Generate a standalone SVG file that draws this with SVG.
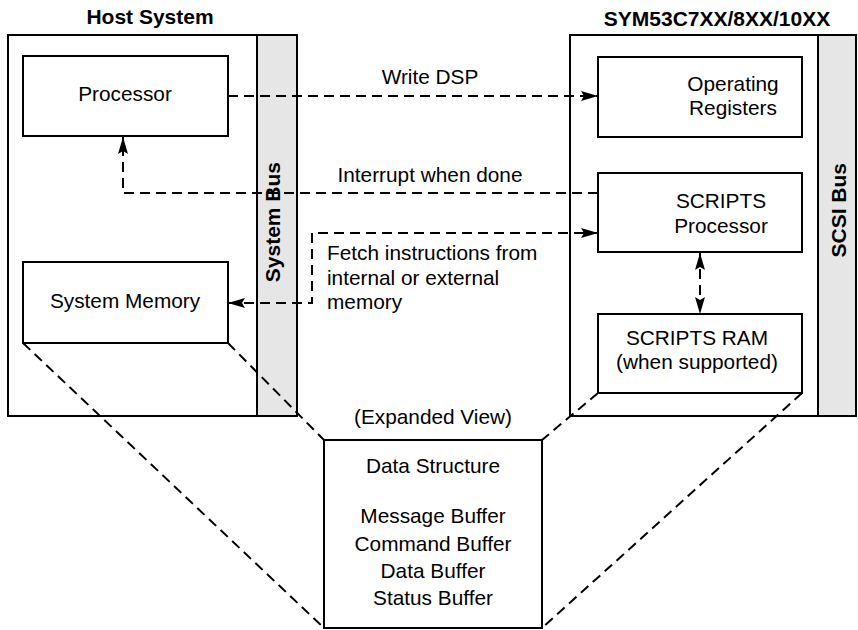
<svg xmlns="http://www.w3.org/2000/svg" width="858" height="630" viewBox="0 0 858 630">
  <style>
    .box { fill: #ffffff; stroke: #000000; stroke-width: 2; }
    .bus { fill: #e6e6e6; stroke: #000000; stroke-width: 2; }
    .lbl { font-family: "Liberation Sans", Arial, sans-serif; font-size: 20.8px; fill: #000000; }
    .ttl { font-family: "Liberation Sans", Arial, sans-serif; font-size: 21px; font-weight: bold; fill: #000000; }
    .c { text-anchor: middle; }
    .dash { fill: none; stroke: #000000; stroke-width: 2; stroke-dasharray: 10 6; }
  </style>
  <defs>
    <marker id="arrow" viewBox="0 0 17 10" refX="17" refY="5" markerWidth="17" markerHeight="10" markerUnits="userSpaceOnUse" orient="auto-start-reverse">
      <path d="M0,0 L17,5 L0,10 L3,5 Z" fill="#000000"/>
    </marker>
  </defs>

  <rect width="858" height="630" fill="#ffffff"/>

  <!-- Host system enclosure -->
  <g id="host-system">
    <rect class="box" x="8" y="35" width="289" height="381"/>
    <rect class="bus" x="257" y="35" width="40" height="381"/>
    <text class="ttl c" x="150" y="24">Host System</text>
    <text class="ttl" text-anchor="end" transform="translate(280,162) rotate(-90)">System Bus</text>
  </g>

  <!-- Controller enclosure -->
  <g id="controller">
    <rect class="box" x="570" y="35" width="286" height="381"/>
    <rect class="bus" x="818" y="35" width="38" height="381"/>
    <text class="ttl c" x="717" y="26">SYM53C7XX/8XX/10XX</text>
    <text class="ttl" text-anchor="end" transform="translate(846,163) rotate(-90)">SCSI Bus</text>
  </g>

  <g id="processor">
    <rect class="box" x="23" y="56" width="205" height="80"/>
    <text class="lbl c" x="125" y="101">Processor</text>
  </g>

  <g id="system-memory">
    <rect class="box" x="23" y="262" width="205" height="81"/>
    <text class="lbl c" x="125" y="308">System Memory</text>
  </g>

  <g id="operating-registers">
    <rect class="box" x="598" y="57" width="204" height="80"/>
    <text class="lbl c" x="733" y="91">Operating</text>
    <text class="lbl c" x="733" y="115">Registers</text>
  </g>

  <g id="scripts-processor">
    <rect class="box" x="598" y="173" width="204" height="79"/>
    <text class="lbl c" x="721" y="208">SCRIPTS</text>
    <text class="lbl c" x="721" y="233">Processor</text>
  </g>

  <g id="scripts-ram">
    <rect class="box" x="598" y="314" width="204" height="79"/>
    <text class="lbl c" x="697" y="345">SCRIPTS RAM</text>
    <text class="lbl c" x="697" y="369">(when supported)</text>
  </g>

  <g id="data-structure">
    <rect class="box" x="324" y="440" width="218" height="188"/>
    <text class="lbl c" x="433" y="473">Data Structure</text>
    <text class="lbl c" x="433" y="523">Message Buffer</text>
    <text class="lbl c" x="433" y="551">Command Buffer</text>
    <text class="lbl c" x="433" y="578">Data Buffer</text>
    <text class="lbl c" x="433" y="605">Status Buffer</text>
  </g>

  <!-- Connectors -->
  <g id="connectors">
    <path class="dash" d="M228,96 H598" marker-end="url(#arrow)"/>
    <path class="dash" d="M598,193 H123 V137" marker-end="url(#arrow)"/>
    <path class="dash" d="M228,303 H312 V233 H598" marker-start="url(#arrow)" marker-end="url(#arrow)"/>
    <path class="dash" d="M700,253 V314" marker-start="url(#arrow)" marker-end="url(#arrow)"/>
    <!-- expansion guides -->
    <path class="dash" d="M23,343 L324,628"/>
    <path class="dash" d="M228,343 L324,440"/>
    <path class="dash" d="M598,393 L542,440"/>
    <path class="dash" d="M802,393 L542,628"/>
  </g>

  <!-- Connector labels -->
  <g id="labels">
    <text class="lbl c" x="430" y="84">Write DSP</text>
    <text class="lbl c" x="430" y="182">Interrupt when done</text>
    <text class="lbl" x="327" y="260">Fetch instructions from</text>
    <text class="lbl" x="327" y="285">internal or external</text>
    <text class="lbl" x="327" y="309">memory</text>
    <text class="lbl c" x="433" y="424">(Expanded View)</text>
  </g>
</svg>
